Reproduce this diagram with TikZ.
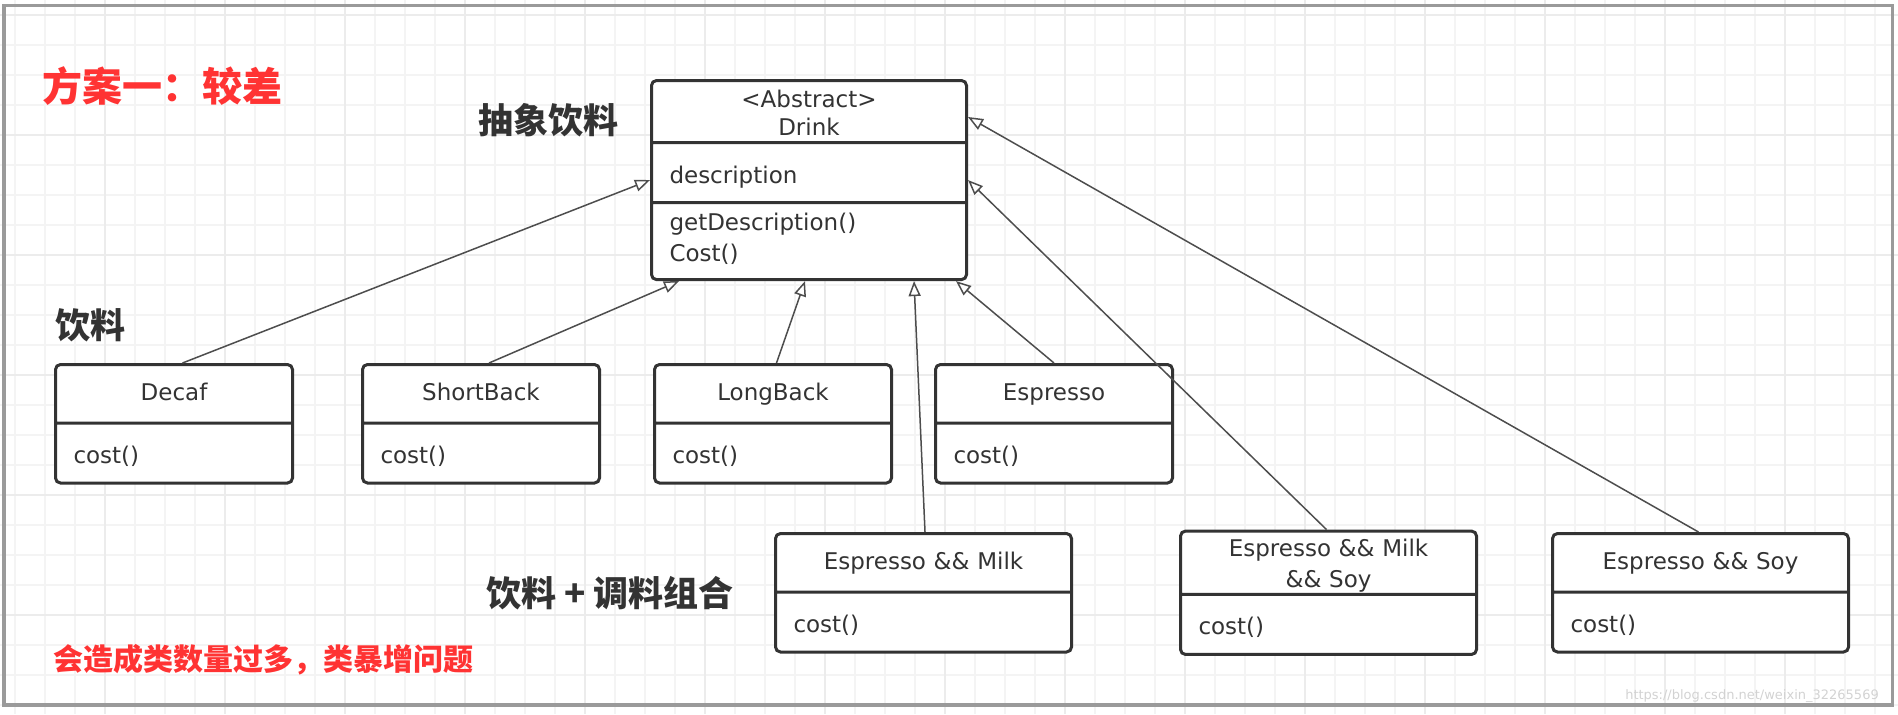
\documentclass[tikz,border=0pt]{standalone}
\usepackage{fontspec}
\setmainfont{DejaVu Sans}
\newfontfamily\cjk{Noto Sans CJK SC}
\usepackage{tikz}
\usetikzlibrary{shapes,arrows.meta}
\usetikzlibrary{positioning}
\setlength\parindent{0pt}
\definecolor{ink}{HTML}{333333}
\definecolor{wire}{HTML}{4D4D4D}
\definecolor{alert}{HTML}{FF3333}
\definecolor{framegray}{HTML}{9A9A9A}
\definecolor{minorgrid}{HTML}{F4F4F4}
\definecolor{majorgrid}{HTML}{ECECEC}
\newcommand\headstrut{\rule[-10.75pt]{0pt}{27.75pt}}
\newcommand\bodystrut{\rule[-9pt]{0pt}{28.5pt}}
\tikzstyle{generalize} = [draw=wire, line width=0.75pt,
    -{Triangle[fill=white, length=7.5pt, width=6pt]}]
\tikzstyle{cls} = [
    rectangle split, rectangle split parts=2, draw=ink, fill=white,
    line width=1.5pt, rounded corners=2.5pt, text width=100.5pt,
    inner xsep=9pt, inner ysep=0pt, text=ink,
    font=\fontsize{11.5pt}{15.5pt}\selectfont]
\tikzstyle{tag} = [inner sep=0pt, text=ink,
    font=\cjk\bfseries\fontsize{17.5pt}{20pt}\selectfont]
\tikzstyle{warn} = [inner sep=0pt, text=alert,
    font=\cjk\bfseries\fontsize{15pt}{18pt}\selectfont]

\begin{document}
\begin{tikzpicture}[x=0.5pt, y=-0.5pt]
\useasboundingbox (0,0) rectangle (1898,714);

% background grid
\foreach \gx in {15,45,...,1905} \draw [minorgrid, line width=1pt] (\gx,0) -- (\gx,714);
\foreach \gy in {15,45,...,735} \draw [minorgrid, line width=1pt] (0,\gy) -- (1898,\gy);
\foreach \gx in {105,225,...,1905} \draw [majorgrid, line width=1pt] (\gx,0) -- (\gx,714);
\foreach \gy in {15,135,...,735} \draw [majorgrid, line width=1pt] (0,\gy) -- (1898,\gy);
\draw [framegray, line width=1.75pt] (4,5.5) rectangle (1892.5,705);

\node (title) [warn, font=\cjk\bfseries\fontsize{20pt}{22pt}\selectfont] at (162,86) {方案一：较差};

\node (drink) [cls, rectangle split parts=3, text width=139.5pt, anchor=north west] at (650,79) {
    \centering\baselineskip=14pt\rule{0pt}{12.5pt}<Abstract>\par
    Drink\rule[-3pt]{0pt}{0pt}\par
    \nodepart{second}\bodystrut description
    \nodepart{third}\rule{0pt}{13.15pt}getDescription()\par
    Cost()\rule[-8.4pt]{0pt}{0pt}
};
\node (abstract-tag) [tag] at (548,120) {抽象饮料};

% plain drinks
\node (decaf) [cls, anchor=north west] at (54,363) {
    \centering\headstrut Decaf\par
    \nodepart{second}\bodystrut cost()
};
\node (short-back) [cls, right=33.5pt of decaf] {
    \centering\headstrut ShortBack\par
    \nodepart{second}\bodystrut cost()
};
\node (long-back) [cls, right=26pt of short-back] {
    \centering\headstrut LongBack\par
    \nodepart{second}\bodystrut cost()
};
\node (espresso) [cls, right=20.5pt of long-back] {
    \centering\headstrut Espresso\par
    \nodepart{second}\bodystrut cost()
};
\node (drink-tag) [tag] at (90,325) {饮料};

% drinks with condiments
\node (espresso-milk) [cls, text width=130pt, anchor=north west] at (774,532) {
    \centering\headstrut Espresso \&\& Milk\par
    \nodepart{second}\bodystrut cost()
};
\node (espresso-milk-soy) [cls, text width=130pt, right=53pt of espresso-milk] {
    \centering\rule{0pt}{12pt}Espresso \&\& Milk\par
    \&\& Soy\rule[-2.7pt]{0pt}{0pt}\par
    \nodepart{second}\bodystrut cost()
};
\node (espresso-soy) [cls, text width=130pt, right=36.5pt of espresso-milk-soy] {
    \centering\headstrut Espresso \&\& Soy\par
    \nodepart{second}\bodystrut cost()
};
\node (combo-tag) [tag] at (610,593) {饮料 + 调料组合};
\node (warning) [warn] at (263,660) {会造成类数量过多，类暴增问题};
\node (watermark) [inner sep=0pt, text=gray!35, font=\fontsize{6.5pt}{8pt}\selectfont] at (1752,696) {https://blog.csdn.net/weixin\_32265569};

\draw [generalize] ([xshift=4.25pt]decaf.north) -- (drink.west);
\draw [generalize] ([xshift=4pt]short-back.north) -- ([xshift=14.5pt]drink.south west);
\draw [generalize] ([xshift=1.75pt]long-back.north) -- ([xshift=-2pt]drink.south);
\draw [generalize] (espresso.north) -- ([xshift=-6pt]drink.south east);
\draw [generalize] ([xshift=0.75pt]espresso-milk.north) -- ([xshift=-27pt]drink.south east);
\draw [generalize] ([xshift=-1pt]espresso-milk-soy.north) -- (drink.east);
\draw [generalize] ([xshift=-1pt]espresso-soy.north) -- ([yshift=-19pt]drink.north east);
\end{tikzpicture}
\end{document}
